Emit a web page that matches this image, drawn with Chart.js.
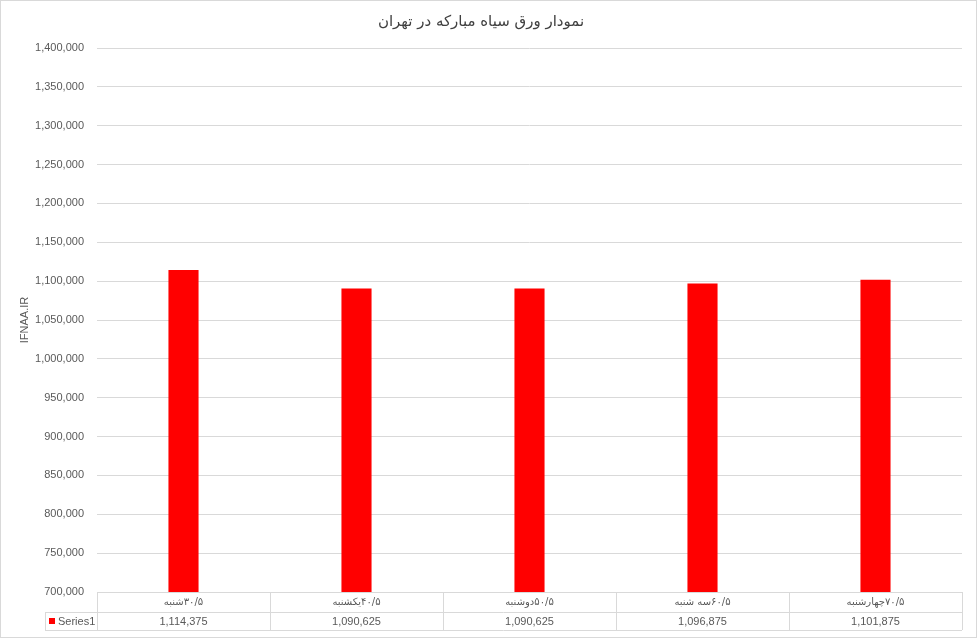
<!doctype html>
<html lang="fa">
<head>
    <meta charset="UTF-8"/>
    <title>نمودار ورق سیاه مبارکه در تهران</title>
    <script src="https://cdn.jsdelivr.net/npm/chart.js@4.4.1/dist/chart.umd.min.js"></script>
    <style>
        html, body { margin: 0; padding: 0; background: #fff; }
        canvas { display: block; }
    </style>
</head>
<body>
<canvas id="priceChart" width="977" height="638"></canvas>

<script>
    // day name + date, written the way the table row shows them
    const dayNames = ['شنبه', 'یکشنبه', 'دوشنبه', 'سه شنبه', 'چهارشنبه'];
    const dates = ['۳۰/۵', '۴۰/۵', '۵۰/۵', '۶۰/۵', '۷۰/۵'];
    const categories = dayNames.map((d, i) => d + dates[i]);
    const prices = [1114375, 1090625, 1090625, 1096875, 1101875];
    const seriesName = 'Series1';
    const chartTitle = 'نمودار ورق سیاه مبارکه در تهران';
    const axisTitle = 'IFNAA.IR';
    const yMin = 700000;
    const yMax = 1400000;
    const yStep = 50000;

    const lineColor = '#d9d9d9';
    const textColor = '#595959';
    const barColor = '#ff0000';

    const fmt = (v) => v.toLocaleString('en-US');

    // draws the data table under the bars and the frame round the chart
    const dataTable = {
        id: 'dataTable',
        afterDraw(chart) {
            const ctx = chart.ctx;
            const x = chart.scales.x;
            const area = chart.chartArea;
            const colW = (area.right - area.left) / categories.length;
            const top = area.bottom;
            const mid = top + 20;
            const bottom = top + 38;
            const keyLeft = 45;

            ctx.save();
            ctx.strokeStyle = lineColor;
            ctx.lineWidth = 1;
            ctx.beginPath();
            ctx.moveTo(area.left, top + 0.5);
            ctx.lineTo(area.right, top + 0.5);
            ctx.moveTo(keyLeft, mid + 0.5);
            ctx.lineTo(area.right, mid + 0.5);
            ctx.moveTo(keyLeft, bottom + 0.5);
            ctx.lineTo(area.right, bottom + 0.5);
            ctx.moveTo(keyLeft + 0.5, mid);
            ctx.lineTo(keyLeft + 0.5, bottom);
            for (let i = 0; i <= categories.length; i++) {
                const cx = Math.round(area.left + i * colW) + 0.5;
                ctx.moveTo(cx, top);
                ctx.lineTo(cx, bottom);
            }
            ctx.stroke();

            // outer frame
            ctx.strokeRect(0.5, 0.5, chart.width - 1, chart.height - 1);

            ctx.fillStyle = textColor;
            ctx.textBaseline = 'middle';
            categories.forEach((cat, i) => {
                const cx = x.getPixelForValue(i);
                // word and date drawn side by side so the bidi order is fixed
                ctx.font = '10px "DejaVu Sans"';
                ctx.textAlign = 'left';
                const w1 = ctx.measureText(dayNames[i]).width;
                const w2 = ctx.measureText(dates[i]).width;
                const sx = cx - (w1 + w2) / 2;
                ctx.fillText(dayNames[i], sx, top + 10);
                ctx.fillText(dates[i], sx + w1, top + 10);
                ctx.font = '11px "Liberation Sans"';
                ctx.textAlign = 'center';
                ctx.fillText(fmt(prices[i]), cx, mid + 10);
            });

            // legend key
            ctx.fillStyle = barColor;
            ctx.fillRect(49, mid + 6, 6, 6);
            ctx.fillStyle = textColor;
            ctx.textAlign = 'left';
            ctx.font = '11px "Liberation Sans"';
            ctx.fillText(seriesName, 58, mid + 10);
            ctx.restore();
        }
    };

    const ctx = document.getElementById('priceChart').getContext('2d');

    new Chart(ctx, {
        type: 'bar',
        data: {
            labels: categories,
            datasets: [{
                label: seriesName,
                data: prices,
                backgroundColor: barColor,
                borderWidth: 0,
                categoryPercentage: 1,
                barPercentage: 0.174
            }]
        },
        plugins: [dataTable],
        options: {
            responsive: false,
            animation: false,
            devicePixelRatio: 1,
            layout: {padding: {left: 0, right: 15, top: 0, bottom: 0}},
            plugins: {
                legend: {display: false},
                tooltip: {enabled: false},
                title: {
                    display: true,
                    text: chartTitle,
                    color: '#404040',
                    font: {family: '"DejaVu Sans"', size: 15, weight: 'normal'},
                    padding: {top: 13, bottom: 17}
                }
            },
            scales: {
                x: {
                    grid: {display: false},
                    border: {display: false},
                    ticks: {display: false},
                    afterFit: (scale) => { scale.height = 46; }
                },
                y: {
                    min: yMin,
                    max: yMax,
                    border: {display: false},
                    grid: {color: lineColor, drawTicks: false, tickLength: 0},
                    ticks: {
                        stepSize: yStep,
                        padding: 13,
                        color: textColor,
                        font: {family: '"Liberation Sans"', size: 11},
                        callback: (v) => fmt(v)
                    },
                    title: {
                        display: true,
                        text: axisTitle,
                        color: textColor,
                        font: {family: '"Liberation Sans"', size: 11},
                        padding: {top: 18, bottom: 0}
                    },
                    afterFit: (scale) => { scale.width = 97; }
                }
            }
        }
    });
</script>
</body>
</html>
